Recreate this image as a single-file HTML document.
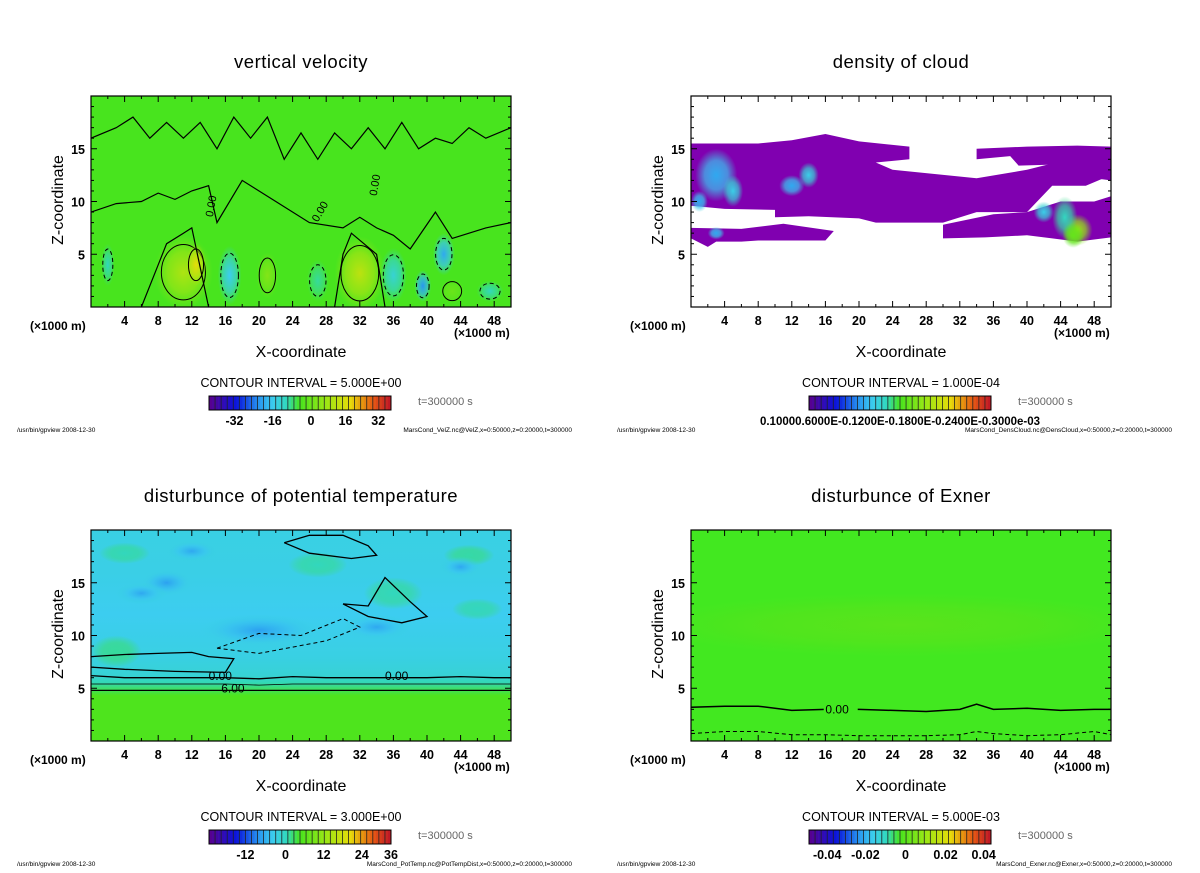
<!DOCTYPE html>
<html><head><meta charset="utf-8">
<style>
html,body{margin:0;padding:0;background:#fff;}
body{width:1200px;height:868px;overflow:hidden;font-family:"Liberation Sans",sans-serif;}
svg text{font-family:"Liberation Sans","DejaVu Sans",sans-serif;}
</style></head>
<body>
<svg id="fig" xmlns="http://www.w3.org/2000/svg" width="1200" height="868" viewBox="0 0 1200 868">
<defs></defs>
</svg>
<script>
// ---------- data ----------
const xTicks=[4,8,12,16,20,24,28,32,36,40,44,48];
const zTicks=[5,10,15];
const xRange=[0,50];
const zRange=[0,20];
const titles=["vertical velocity","density of cloud","disturbunce of potential temperature","disturbunce of Exner"];
const intervals=["CONTOUR INTERVAL = 5.000E+00","CONTOUR INTERVAL = 1.000E-04","CONTOUR INTERVAL = 3.000E+00","CONTOUR INTERVAL = 5.000E-03"];
const cbLabels=[["-32","-16","0","16","32"],["0.10000.6000E-0.1200E-0.1800E-0.2400E-0.3000e-03"],["-12","0","12","24","36"],["-0.04","-0.02","0","0.02","0.04"]];
const cbFrac=[[0.14,0.35,0.56,0.75,0.93],[0.5],[0.2,0.42,0.63,0.84,1.0],[0.1,0.31,0.53,0.75,0.96]];
const files=["MarsCond_VelZ.nc@VelZ,x=0:50000,z=0:20000,t=300000","MarsCond_DensCloud.nc@DensCloud,x=0:50000,z=0:20000,t=300000","MarsCond_PotTemp.nc@PotTempDist,x=0:50000,z=0:20000,t=300000","MarsCond_Exner.nc@Exner,x=0:50000,z=0:20000,t=300000"];
// vertical velocity blobs: x, z, rx, rz, value (normalized)
const wX=[11,12.5,32,21,43,16.5,36,39.5,42,27,47.5,2];
const wZ=[3.3,4,3.2,3,1.5,3,3,2,5,2.5,1.5,4];
const wRX=[3.5,1.2,3,1.3,1.5,1.4,1.6,1,1.3,1.3,1.6,0.8];
const wRZ=[3.5,2,3.5,2.2,1.2,2.8,2.6,1.5,2,2,1,2];
const wV=[0.35,0.55,0.4,0.2,0.12,-0.3,-0.22,-0.45,-0.4,-0.12,-0.15,-0.15];
// cloud patches: polygons in (x,z)
const cloudPolys=[
 [[0,15.5],[8,15.5],[12,15.8],[16,16.4],[20,15.7],[26,15.2],[26,14],[22,13.7],[24,13],[34,12.2],[40,13],[45,14],[50,14.5],[50,12.5],[47,11.5],[43,11.5],[40,9],[34,9],[30,8],[22,8],[20,8.4],[14,8.6],[10,8.5],[10,9.2],[4,9.3],[0,9.6]],
 [[0,7.5],[6,7.4],[11,7.9],[17,7.2],[16,6.3],[8,6.3],[6,6.2],[3,6.2],[2,5.7],[0,6.5]],
 [[34,15],[40,15.2],[46,15.3],[50,15.2],[50,12],[45,12.5],[43,13.5],[39,13.4],[38,14.3],[34,14]],
 [[30,7.8],[36,8.8],[40,9],[44,10],[48,10],[50,10.5],[50,6.6],[46,6.2],[43,6.5],[40,6.8],[35,6.6],[30,6.5]]
];
// cloud dense spots: x, z, rx, rz, value
const cdX=[3,5,14,12,46,44.5,42,1,3];
const cdZ=[12.5,11,12.5,11.5,7.3,8.5,9,10,7];
const cdRX=[2.5,1.2,1.2,1.5,1.8,1.5,1.2,1,1];
const cdRZ=[2.5,1.5,1.2,1,1.5,2,1,1,0.6];
const cdV=[0.25,0.3,0.3,0.25,0.55,0.35,0.3,0.25,0.25];
// potential temperature profile: z levels & value
const ptZ=[0,3,4.3,4.8,5.5,6.2,8,12,16,20];
const ptV=[0.02,0.02,0.02,-0.05,-0.14,-0.22,-0.26,-0.3,-0.27,-0.26];
// potential temp patches: x,z,rx,rz,value
const ppX=[3,4,9,27,20,34,36,45,12,44,46,6];
const ppZ=[8.5,17.8,15,16.7,10.5,10.8,14,17.6,18,16.5,12.5,14];
const ppRX=[3,3,3,3.5,7,4,3.5,3,3,2.5,3,3];
const ppRZ=[1.5,1,1.2,1.2,1.5,1.2,1.5,1,1,1,1,1];
const ppV=[-0.12,-0.15,-0.42,-0.15,-0.42,-0.4,-0.15,-0.13,-0.4,-0.4,-0.16,-0.4];
// Exner contours
const exX=[0,4,8,12,16,20,24,28,32,34,36,40,44,48,50];
const exZero=[3.2,3.3,3.3,2.9,3.0,3.0,2.9,2.8,3.0,3.5,3.0,3.1,2.9,3.0,3.0];
const exNeg=[0.7,0.9,0.9,0.6,0.6,0.5,0.5,0.5,0.6,0.9,0.7,0.5,0.6,0.9,0.6];
// potential temp contour lines
const ptLineX=[0,4,8,12,16,20,24,28,32,36,40,44,48,50];
const ptLine0=[6.2,6.0,6.0,6.0,6.0,5.9,6.1,6.0,6.0,6.0,6.0,6.1,6.0,6.0];
const ptLine6=[4.8,4.8,4.8,4.8,4.8,4.8,4.8,4.8,4.8,4.8,4.8,4.8,4.8,4.8];
const ptLine3=[5.4,5.4,5.4,5.4,5.4,5.3,5.4,5.4,5.4,5.4,5.4,5.4,5.4,5.4];

// ---------- helpers ----------
const NS="http://www.w3.org/2000/svg";
const svg=document.getElementById('fig');
function mk(tag,attrs,parent){const e=document.createElementNS(NS,tag);for(const k in attrs)e.setAttribute(k,attrs[k]);(parent||svg).appendChild(e);return e;}
const W=420,H=211;
const panels=[{x:91,y:96},{x:691,y:96},{x:91,y:530},{x:691,y:530}];
function sx(p,v){return p.x+(v-xRange[0])/(xRange[1]-xRange[0])*W;}
function sz(p,v){return p.y+H-(v-zRange[0])/(zRange[1]-zRange[0])*H;}
const stops=[[-1,[90,0,140]],[-0.7,[10,20,220]],[-0.45,[40,150,240]],[-0.3,[60,205,240]],[-0.15,[50,215,190]],[0,[72,228,30]],[0.3,[160,230,20]],[0.55,[230,220,10]],[0.8,[230,90,20]],[1,[190,20,40]]];
function cmap(v){v=Math.max(-1,Math.min(1,v));for(let i=1;i<stops.length;i++){if(v<=stops[i][0]){const a=stops[i-1],b=stops[i];const t=(v-a[0])/(b[0]-a[0]);const c=a[1].map((q,j)=>Math.round(q+(b[1][j]-q)*t));return `rgb(${c.join(',')})`;}}return 'rgb(190,20,40)';}
let gid=0;
function blob(g,p,x,z,rx,rz,v,contour){
  const id='b'+(gid++);
  const defs=svg.querySelector('defs');
  const gr=mk('radialGradient',{id:id,cx:'50%',cy:'50%',r:'50%'},defs);
  mk('stop',{offset:'0','stop-color':cmap(v),'stop-opacity':'1'},gr);
  mk('stop',{offset:'0.55','stop-color':cmap(v*0.8),'stop-opacity':'0.7'},gr);
  mk('stop',{offset:'1','stop-color':cmap(v*0.6),'stop-opacity':'0'},gr);
  const e=mk('ellipse',{cx:sx(p,x),cy:sz(p,z),rx:(rx/50*W),ry:(rz/20*H),fill:`url(#${id})`},g);
  
  
  if(contour){
    const c=mk('ellipse',{cx:sx(p,x),cy:sz(p,z),rx:(rx/50*W*0.75),ry:(rz/20*H*0.75),fill:'none',stroke:'#000','stroke-width':1,'stroke-dasharray':v<0?'4,3':''},g);
    
    
  }
}
function line(g,p,xs,zs,dash,w){
  const d=xs.map((x,i)=>(i?'L':'M')+sx(p,x).toFixed(1)+','+sz(p,zs[i]).toFixed(1)).join(' ');
  const e=mk('path',{d:d,fill:'none',stroke:'#000','stroke-width':w||1.3,'stroke-dasharray':dash||''},g);
  
  
}
function txt(s,x,y,size,attrs,parent){const t=mk('text',Object.assign({x:x,y:y,'font-size':size,fill:'#000'},attrs||{}),parent);t.textContent=s;return t;}

panels.forEach((p,i)=>{
  const g=mk('g',{});
  
  
  const clip=mk('clipPath',{id:'c'+i},svg.querySelector('defs'));
  mk('rect',{x:p.x,y:p.y,width:W,height:H},clip);
  const plot=mk('g',{'clip-path':`url(#c${i})`},g);
  
  
  if(i===0){
    mk('rect',{x:p.x,y:p.y,width:W,height:H,fill:'rgb(72,228,30)'},plot);
    wX.forEach((x,k)=>blob(plot,p,x,wZ[k],wRX[k],wRZ[k],wV[k],true));
    line(plot,p,[0,3,6,8,10,12,14,15,18,22,26,30,32,34,36,38,41,43,45,47,50],[9,9.8,10,10.8,10.2,11,11.5,8,12,10,8,7.5,8.5,7.5,6.8,5.5,9,6.5,7,7.5,8],'',1.2);
    line(plot,p,[0,3,5,7,9,11,13,15,17,19,21,23,25,27,29,31,33,35,37,39,41,43,45,47,50],[16,17,18,16,17.5,16,17.5,15,18,16,18,14,16.5,14,16.5,15,17,15,17.5,15,16,15.5,17,16,17],'',1.2);
    line(plot,p,[6,8,9,11,12,14],[0,4,6,7,7.5,0],'',1.2);
    line(plot,p,[29,30,31,34,35],[0,5,7,5,0],'',1.2);
  } else if(i===1){
    mk('rect',{x:p.x,y:p.y,width:W,height:H,fill:'#fff'},plot);
    cloudPolys.forEach(poly=>{
      const e=mk('polygon',{points:poly.map(q=>sx(p,q[0]).toFixed(1)+','+sz(p,q[1]).toFixed(1)).join(' '),fill:'rgb(128,0,176)'},plot);
      
      
    });
    cdX.forEach((x,k)=>blob(plot,p,x,cdZ[k],cdRX[k],cdRZ[k],-1+cdV[k]*2.4,false));
    blob(plot,p,45.5,6.8,1.3,1.2,0.1,false);
  } else if(i===2){
    const id='ptg';
    const gr=mk('linearGradient',{id:id,x1:0,y1:1,x2:0,y2:0},svg.querySelector('defs'));
    ptZ.forEach((z,k)=>mk('stop',{offset:(z/20),'stop-color':cmap(ptV[k])},gr));
    mk('rect',{x:p.x,y:p.y,width:W,height:H,fill:`url(#${id})`},plot);
    ppX.forEach((x,k)=>blob(plot,p,x,ppZ[k],ppRX[k],ppRZ[k],ppV[k],false));
    line(plot,p,ptLineX,ptLine0,'',1.3);
    line(plot,p,ptLineX,ptLine3,'',0.8);
    line(plot,p,ptLineX,ptLine6,'',1.3);
    line(plot,p,[0,4,8,12,14,17,16,10,4,0],[8,8.2,8.3,8.4,8,7.8,6.5,6.6,6.8,7],'',1.3);
    line(plot,p,[23,26,30,33,34,31,26,23],[18.8,19.5,19.5,18.5,17.6,17.3,17.8,18.8],'',1.3);
    line(plot,p,[30,33,35,38,40,37,33,30],[13,12.8,15.5,13.2,11.8,11.2,11.8,13],'',1.3);
    line(plot,p,[15,20,25,30,32,28,20,15],[8.8,10.2,10,11.6,10.8,9.5,8.3,8.8],'4,3',1);
    txt('0.00',sx(p,14),sz(p,5.8),12,{},plot);txt('6.00',sx(p,15.5),sz(p,4.6),12,{},plot);txt('0.00',sx(p,35),sz(p,5.8),12,{},plot);
  } else {
    mk('rect',{x:p.x,y:p.y,width:W,height:H,fill:'rgb(66,232,32)'},plot);
    blob(plot,p,25,11,30,3,0.06,false);
    line(plot,p,exX,exZero,'',1.5);
    line(plot,p,exX,exNeg,'4,3',1);
    mk('rect',{x:sx(p,15.8),y:sz(p,3.6),width:34,height:10,fill:'rgb(66,232,32)'},plot);
    txt('0.00',sx(p,16),sz(p,2.6),12,{},plot);
  }
  if(i===0){
    txt('0.00',sx(p,27),sz(p,8),11,{transform:`rotate(-60 ${sx(p,27)} ${sz(p,8)})`},plot);
    txt('0.00',sx(p,34),sz(p,10.5),11,{transform:`rotate(-80 ${sx(p,34)} ${sz(p,10.5)})`},plot);
    txt('0.00',sx(p,14.5),sz(p,8.5),11,{transform:`rotate(-80 ${sx(p,14.5)} ${sz(p,8.5)})`},plot);
  }
  const fr=mk('rect',{x:p.x,y:p.y,width:W,height:H,fill:'none',stroke:'#000','stroke-width':1.2},g);
  
  
  for(let v=2;v<50;v+=2){
    const L=(v%4===0)?6:3;
    mk('line',{x1:sx(p,v),x2:sx(p,v),y1:p.y+H,y2:p.y+H-L,stroke:'#000','stroke-width':1},g);
    mk('line',{x1:sx(p,v),x2:sx(p,v),y1:p.y,y2:p.y+L,stroke:'#000','stroke-width':1},g);
  }
  for(let v=1;v<20;v++){
    const L=(v%5===0)?6:3;
    mk('line',{x1:p.x,x2:p.x+L,y1:sz(p,v),y2:sz(p,v),stroke:'#000','stroke-width':1},g);
    mk('line',{x1:p.x+W,x2:p.x+W-L,y1:sz(p,v),y2:sz(p,v),stroke:'#000','stroke-width':1},g);
  }
  xTicks.forEach(v=>{const t=txt(String(v),sx(p,v),p.y+H+18,12.5,{'text-anchor':'middle','font-weight':'bold'},g);});
  zTicks.forEach(v=>{const t=txt(String(v),p.x-6,sz(p,v)+5,12.5,{'text-anchor':'end','font-weight':'bold'},g);});
  const u1=txt('(×1000 m)',p.x-61,p.y+H+23,12,{'font-weight':'bold'},g);
  const u2=txt('(×1000 m)',p.x+W-57,p.y+H+30,12,{'font-weight':'bold'},g);
  const tt=txt(titles[i],p.x+W/2,p.y-28,18.5,{'text-anchor':'middle','letter-spacing':'0.5'},g);
  const xt=txt('X-coordinate',p.x+W/2,p.y+H+50,16,{'text-anchor':'middle'},g);
  const zt=txt('Z-coordinate',0,0,16,{'text-anchor':'middle',transform:`translate(${p.x-28} ${p.y+104}) rotate(-90)`},g);
  const ci=txt(intervals[i],p.x+W/2,p.y+H+80,12.5,{'text-anchor':'middle'},g);
  const cbx=p.x+118,cby=p.y+H+89,cbw=182,cbh=14,n=60;
  const cb=mk('g',{},g);
  for(let k=0;k<n;k++){
    const v=-1+2*(k+0.5)/n;
    mk('rect',{x:cbx+k*cbw/n,y:cby,width:cbw/n+0.3,height:cbh,fill:cmap(v)},cb);
    if(k%2===0) mk('line',{x1:cbx+k*cbw/n,x2:cbx+k*cbw/n,y1:cby,y2:cby+cbh,stroke:'#222','stroke-width':0.8},cb);
  }
  mk('rect',{x:cbx,y:cby,width:cbw,height:cbh,fill:'none',stroke:'#000','stroke-width':1},cb);
  cbLabels[i].forEach((s,k)=>{const t=txt(s,cbx+cbFrac[i][k]*cbw,cby+29,i===1?11.5:12.5,{'text-anchor':'middle','font-weight':'bold'},cb);});
  const ts=txt('t=300000 s',p.x+327,p.y+H+98,11,{fill:'#666'},g);
  const f1=txt('/usr/bin/gpview  2008-12-30',p.x-74,p.y+H+125,6.5,{},g);
  const f2=txt(files[i],p.x+481,p.y+H+125,6.5,{'text-anchor':'end'},g);
});
</script>
</body></html>
